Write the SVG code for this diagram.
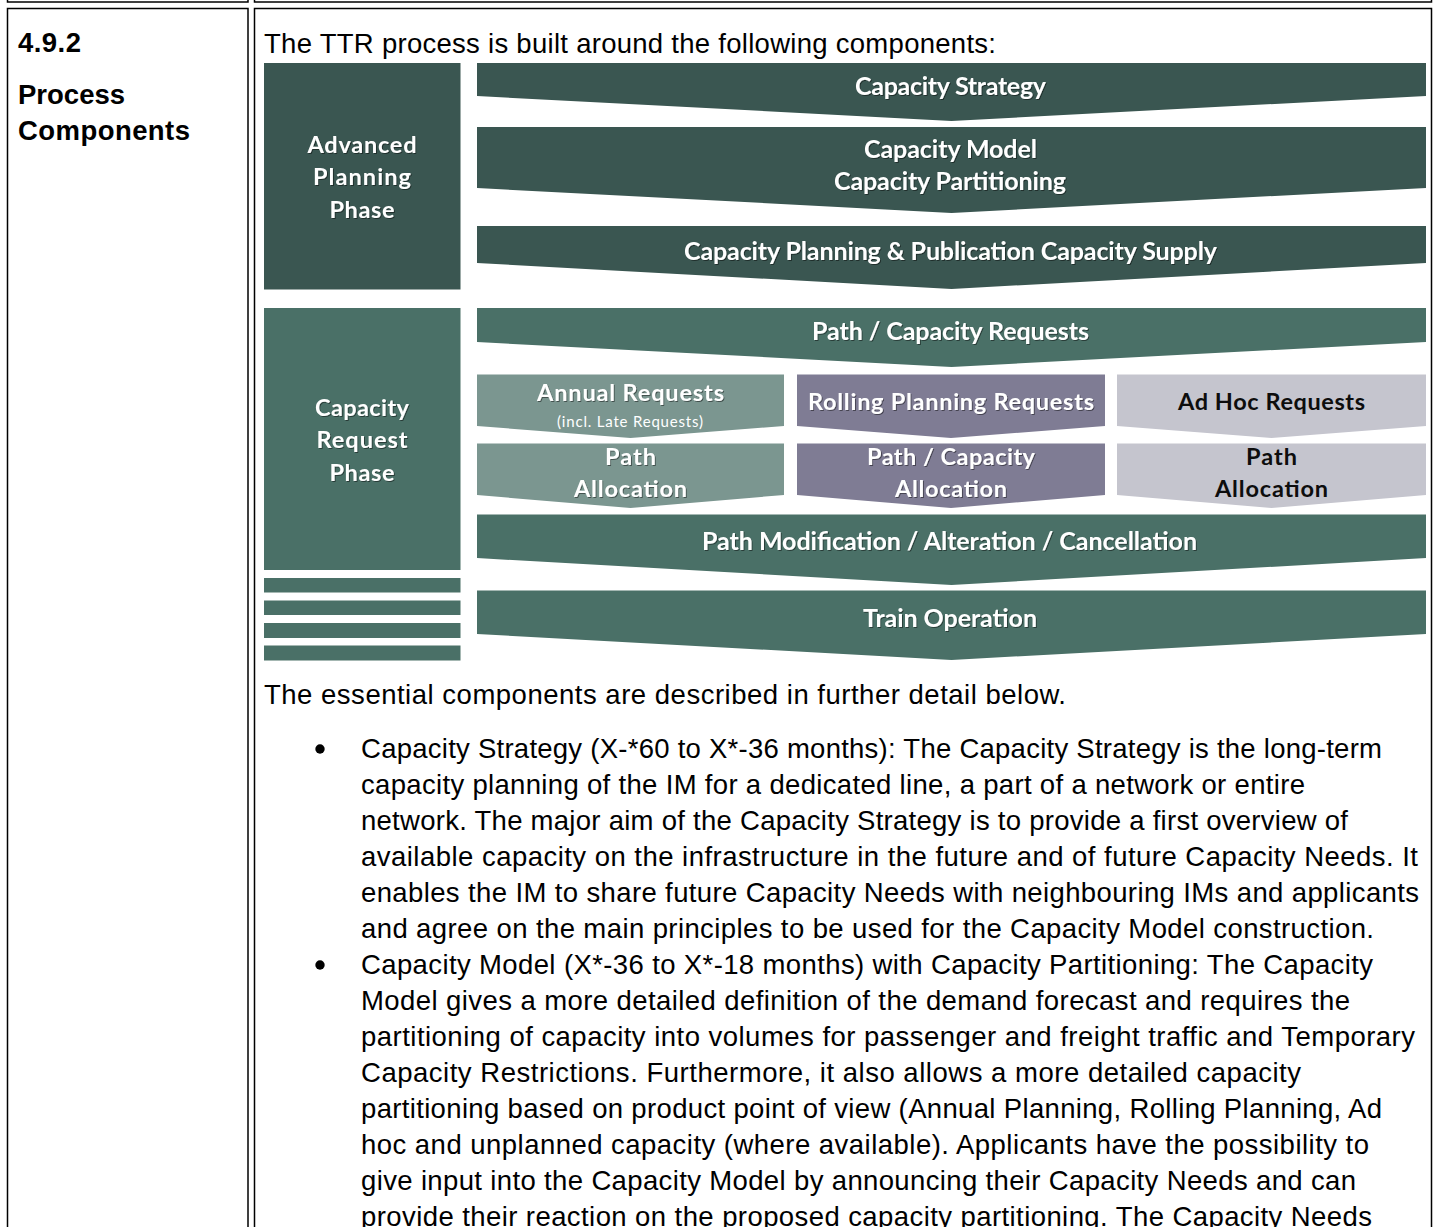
<svg xmlns="http://www.w3.org/2000/svg" width="1438" height="1227" viewBox="0 0 1438 1227">
<defs>
<filter id="sh" x="-5%" y="-20%" width="110%" height="140%">
<feDropShadow dx="1" dy="1" stdDeviation="0.6" flood-color="#000" flood-opacity="0.45"/>
</filter>
</defs>
<style>
.bd{fill:none;stroke:#000;stroke-width:1.5}
.hd{font-family:"Liberation Sans",Arial,sans-serif;font-weight:700;font-size:27.5px;fill:#000}
.bt{font-family:"Liberation Sans",Arial,sans-serif;font-size:27.5px;fill:#000}
.dk{fill:#3A5651}
.md{fill:#4A7067}
.an{fill:#7B9690}
.ro{fill:#7F7C94}
.ah{fill:#C5C5CE}
.cw{font-family:Lato,"Open Sans",sans-serif;font-weight:700;font-size:25px;fill:#fff;text-anchor:middle;filter:url(#sh)}
.cs{font-family:Lato,"Open Sans",sans-serif;font-weight:700;font-size:23.5px;fill:#fff;text-anchor:middle;filter:url(#sh)}
.cb{font-family:Lato,"Open Sans",sans-serif;font-weight:700;font-size:23.5px;fill:#0d0d0d;text-anchor:middle}
.sm{font-family:Lato,"Open Sans",sans-serif;font-size:15px;fill:#fff;text-anchor:middle}
</style>

<g id="table">
<path class="bd" d="M7.5,0 V2 H248 V0 M254.5,0 V2 H1431.5 V0"/>
<rect class="bd" x="7.5" y="8.5" width="240.5" height="1230"/>
<rect class="bd" x="254.5" y="8.5" width="1177" height="1230"/>
</g>

<g id="heading">
<text class="hd" x="18" y="52" textLength="63">4.9.2</text>
<text class="hd" x="18" y="104" textLength="107">Process</text>
<text class="hd" x="18" y="139.5" textLength="172">Components</text>
</g>

<text class="bt" x="264" y="53" textLength="732">The TTR process is built around the following components:</text>

<g id="advanced-planning-phase">
<rect class="dk" x="264" y="63" width="196.5" height="226.5"/>
<text class="cs" x="362" y="153" textLength="109">Advanced</text>
<text class="cs" x="362" y="185" textLength="98">Planning</text>
<text class="cs" x="362" y="217.5" textLength="65">Phase</text>
</g>

<g id="capacity-request-phase">
<rect class="md" x="264" y="308" width="196.5" height="262"/>
<text class="cs" x="362" y="416" textLength="94">Capacity</text>
<text class="cs" x="362" y="448" textLength="91">Request</text>
<text class="cs" x="362" y="481" textLength="65">Phase</text>
</g>

<g id="operation-stripes">
<rect class="md" x="264" y="578" width="196.5" height="14.5"/>
<rect class="md" x="264" y="600.5" width="196.5" height="14.5"/>
<rect class="md" x="264" y="623" width="196.5" height="15"/>
<rect class="md" x="264" y="645.5" width="196.5" height="15"/>
</g>

<g id="capacity-strategy">
<polygon class="dk" points="477,63 1426,63 1426,96 951.5,121 477,96"/>
<text class="cw" x="950.5" y="95" textLength="191">Capacity Strategy</text>
</g>

<g id="capacity-model">
<polygon class="dk" points="477,127 1426,127 1426,188 951.5,213 477,188"/>
<text class="cw" x="950.5" y="157.5" textLength="173">Capacity Model</text>
<text class="cw" x="950" y="190" textLength="232">Capacity Partitioning</text>
</g>

<g id="capacity-planning">
<polygon class="dk" points="477,226 1426,226 1426,263 951.5,289 477,263"/>
<text class="cw" x="950.5" y="259.5" textLength="533">Capacity Planning &amp; Publication Capacity Supply</text>
</g>

<g id="path-capacity-requests">
<polygon class="md" points="477,308 1426,308 1426,342 951.5,367 477,342"/>
<text class="cw" x="950.5" y="340" textLength="277">Path / Capacity Requests</text>
</g>

<g id="annual-requests">
<polygon class="an" points="477,374.5 784,374.5 784,426 630.5,438 477,426"/>
<text class="cs" x="630.5" y="401" textLength="187">Annual Requests</text>
<text class="sm" x="630" y="426.5" textLength="146">(incl. Late Requests)</text>
</g>

<g id="rolling-planning-requests">
<polygon class="ro" points="797,374.5 1105,374.5 1105,426 951,438 797,426"/>
<text class="cs" x="951" y="410" textLength="286">Rolling Planning Requests</text>
</g>

<g id="ad-hoc-requests">
<polygon class="ah" points="1117,374.5 1426,374.5 1426,426 1271.5,438 1117,426"/>
<text class="cb" x="1271.5" y="410" textLength="187">Ad Hoc Requests</text>
</g>

<g id="annual-path-allocation">
<polygon class="an" points="477,443.5 784,443.5 784,495 630.5,508 477,495"/>
<text class="cs" x="630.5" y="465" textLength="51">Path</text>
<text class="cs" x="630.5" y="497" textLength="113">Allocation</text>
</g>

<g id="rolling-path-capacity-allocation">
<polygon class="ro" points="797,443.5 1105,443.5 1105,495 951,508 797,495"/>
<text class="cs" x="951" y="465" textLength="168">Path / Capacity</text>
<text class="cs" x="951" y="497" textLength="112">Allocation</text>
</g>

<g id="adhoc-path-allocation">
<polygon class="ah" points="1117,443.5 1426,443.5 1426,495 1271.5,508 1117,495"/>
<text class="cb" x="1271.5" y="465" textLength="51">Path</text>
<text class="cb" x="1271.5" y="497" textLength="113">Allocation</text>
</g>

<g id="path-modification">
<polygon class="md" points="477,514.5 1426,514.5 1426,558 951.5,585 477,558"/>
<text class="cw" x="949.5" y="550" textLength="495">Path Modification / Alteration / Cancellation</text>
</g>

<g id="train-operation">
<polygon class="md" points="477,590.5 1426,590.5 1426,634 951.5,660 477,634"/>
<text class="cw" x="950" y="626.5" textLength="174">Train Operation</text>
</g>

<g id="connectors"></g>

<g id="body-text">
<text class="bt" x="264" y="704" textLength="802">The essential components are described in further detail below.</text>
<circle cx="320" cy="749" r="4.7" fill="#000"/>
<text class="bt" x="361" y="757.5" textLength="1021">Capacity Strategy (X-*60 to X*-36 months): The Capacity Strategy is the long-term</text>
<text class="bt" x="361" y="793.5" textLength="944">capacity planning of the IM for a dedicated line, a part of a network or entire</text>
<text class="bt" x="361" y="829.5" textLength="987">network. The major aim of the Capacity Strategy is to provide a first overview of</text>
<text class="bt" x="361" y="865.5" textLength="1057">available capacity on the infrastructure in the future and of future Capacity Needs. It</text>
<text class="bt" x="361" y="901.5" textLength="1058">enables the IM to share future Capacity Needs with neighbouring IMs and applicants</text>
<text class="bt" x="361" y="937.5" textLength="1013">and agree on the main principles to be used for the Capacity Model construction.</text>
<circle cx="320" cy="965" r="4.7" fill="#000"/>
<text class="bt" x="361" y="973.5" textLength="1012">Capacity Model (X*-36 to X*-18 months) with Capacity Partitioning: The Capacity</text>
<text class="bt" x="361" y="1009.5" textLength="989">Model gives a more detailed definition of the demand forecast and requires the</text>
<text class="bt" x="361" y="1045.5" textLength="1054">partitioning of capacity into volumes for passenger and freight traffic and Temporary</text>
<text class="bt" x="361" y="1081.5" textLength="940">Capacity Restrictions. Furthermore, it also allows a more detailed capacity</text>
<text class="bt" x="361" y="1117.5" textLength="1021">partitioning based on product point of view (Annual Planning, Rolling Planning, Ad</text>
<text class="bt" x="361" y="1153.5" textLength="1008">hoc and unplanned capacity (where available). Applicants have the possibility to</text>
<text class="bt" x="361" y="1189.5" textLength="995">give input into the Capacity Model by announcing their Capacity Needs and can</text>
<text class="bt" x="361" y="1225.5" textLength="1011">provide their reaction on the proposed capacity partitioning. The Capacity Needs</text>
</g>
</svg>
